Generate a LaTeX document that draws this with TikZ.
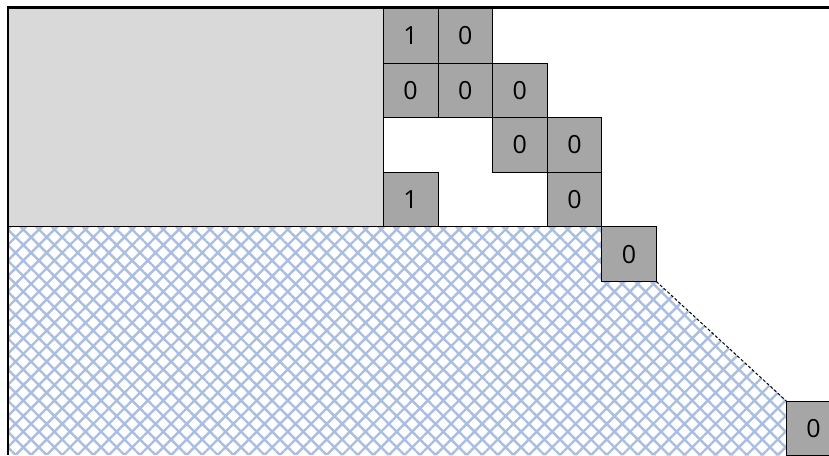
\documentclass[tikz,border=0pt]{standalone}
\usepackage{fontspec}
\setmainfont{Open Sans}
\usetikzlibrary{positioning,backgrounds,patterns.meta}
\definecolor{cellgray}{HTML}{A6A6A6}
\definecolor{blockgray}{HTML}{D9D9D9}
\definecolor{hatchblue}{HTML}{A9BEE0}
\newcommand{\csize}{54.6pt}
\tikzset{
  cell/.style={draw=black,fill=cellgray,minimum size=\csize,inner sep=0pt,outer sep=0pt,line width=0.8pt,font=\fontsize{25}{28}\selectfont},
  block/.style={draw=black,fill=blockgray,line width=0.8pt},
  hatched/.style={pattern={Hatch[angle=45,distance=11pt,line width=2.4pt]},pattern color=hatchblue},
  frame/.style={line width=2.4pt,draw=black},
  edge/.style={line width=1pt,dash pattern=on 3pt off 2pt},
}
\begin{document}
\begin{tikzpicture}[x=1pt,y=1pt,node distance=0pt]
\useasboundingbox (0,0) rectangle (829,455);

% corner of the frame
\coordinate (tl) at (8,447.5);
\coordinate (tr) at (829,447.5);
\coordinate (bl) at (8,0);

% staircase of cells
\node[cell,anchor=north west] (c11) at (383.3,446.5) {1};
\node[cell,right=of c11] (c12) {0};
\node[cell,below=of c11] (c21) {0};
\node[cell,right=of c21] (c22) {0};
\node[cell,right=of c22] (c23) {0};
\node[cell,below=of c23] (c33) {0};
\node[cell,right=of c33] (c34) {0};
\node[cell,below=\csize of c21] (c41) {1};
\node[cell,below=of c34] (c44) {0};
\node[cell,below right=0pt and 0pt of c44] (c55) {0};
\node[cell,below right=119.5pt and 130pt of c55] (c66) {0};

\begin{scope}[on background layer]
  % filled block left of the cells
  \draw[block] (tl) rectangle (c41.south west);
  % hatched region below
  \fill[hatched] (tl |- c41.south) -- (c55.north west) -- (c55.south east)
    -- (c66.north west) -- (c66.south west) -- (bl) -- cycle;
  \draw[line width=0.8pt] (tl |- c41.south) -- (c55.north west);
\end{scope}

\draw[edge] (c55.south east) -- (c66.north west);

\draw[frame] (tr) -- (tl) -- (bl);

\end{tikzpicture}
\end{document}
